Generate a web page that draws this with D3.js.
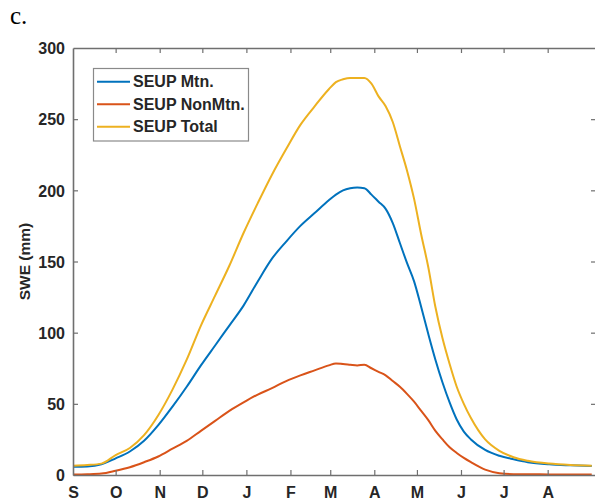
<!DOCTYPE html>
<html>
<head>
<meta charset="utf-8">
<script src="https://cdn.jsdelivr.net/npm/d3@7/dist/d3.min.js"></script>
<style>
  html, body { margin: 0; padding: 0; background: #fff; }
  svg { display: block; }
  text { font-family: "Liberation Sans", Arial, Helvetica, sans-serif; }
</style>
</head>
<body>
<svg id="chart" width="595" height="502"></svg>
<script>
// Days since 1 September
const days = [0, 10, 20, 30, 40, 50, 60, 70, 80, 90, 100, 110, 120, 130, 140, 150, 160, 170, 180, 185, 190, 195, 200, 205, 210, 215, 220, 225, 230, 235, 240, 245, 250, 255, 260, 265, 270, 275, 280, 290, 300, 310, 320, 335, 350, 365];

const mtn = [5.8, 6, 7.5, 11.7, 16.5, 24, 35, 48, 62, 77, 91, 105, 119, 136, 152, 164, 175, 184, 193, 197, 200, 201.5, 202, 201.5, 197, 192, 187, 177, 163, 149, 136, 118, 99, 81, 65, 51, 39, 30.5, 25, 17.6, 13.5, 11, 9, 7.5, 6.8, 6.3];

const nonMtn = [0.3, 0.5, 1, 3, 5.5, 9, 13, 18.5, 24, 31, 38, 45, 51, 56.5, 61, 66, 70, 73.5, 77, 78.4, 78, 77.5, 77, 77.5, 75, 72.5, 70, 66, 62, 57, 51.5, 45, 38.5, 31, 25, 19.5, 15.5, 12, 9, 3.8, 1.3, 0.6, 0.5, 0.4, 0.3, 0.3];

const total = [6.5, 7, 8, 14, 19, 28, 42, 60, 81, 105, 126, 147, 170, 191, 211, 229, 246, 259, 271, 276, 278, 279, 279, 279, 275, 266, 259, 248, 231, 214, 194, 169, 146, 118, 96, 78, 62, 50, 40, 25, 17, 12.5, 10, 8, 7, 6.5];

const monthTickDays = [0, 30, 61, 91, 122, 153, 181, 212, 242, 273, 303, 334];
const monthLabels = ["S", "O", "N", "D", "J", "F", "M", "A", "M", "J", "J", "A"];
const yTicks = [0, 50, 100, 150, 200, 250, 300];

const seriesNames = ["SEUP Mtn.", "SEUP NonMtn.", "SEUP Total"];
const seriesColors = ["#0072BD", "#D95319", "#EDB120"];
const seriesValues = [mtn, nonMtn, total];

const svg = d3.select("#chart");
const L = 73, R = 596, T = 48, B = 475;
const x = d3.scaleLinear().domain([0, 368]).range([L, R]);
const y = d3.scaleLinear().domain([0, 300]).range([B, T]);
const axisColor = "#6f6f6f";
const textColor = "#262626";

// "c." panel label
svg.append("text").attr("x", 10).attr("y", 24)
  .style("font-family", "'Liberation Serif', 'Times New Roman', serif")
  .style("font-size", "25px").attr("fill", "#000").text("c.");

// Lines
const line = d3.line().x((d, i) => x(days[i])).y(d => y(d)).curve(d3.curveMonotoneX);
const plot = svg.append("g");
seriesValues.forEach((vals, k) => {
  plot.append("path").datum(vals)
    .attr("d", line)
    .attr("fill", "none")
    .attr("stroke", seriesColors[k])
    .attr("stroke-width", 2)
    .attr("stroke-linejoin", "round");
});

// Axes (box with inward ticks)
const tickLen = 5;
const xb = svg.append("g").attr("transform", `translate(0,${B})`)
  .call(d3.axisBottom(x).tickValues(monthTickDays).tickSizeInner(-tickLen).tickSizeOuter(0)
    .tickFormat((d, i) => monthLabels[i]));
const xt = svg.append("g").attr("transform", `translate(0,${T})`)
  .call(d3.axisTop(x).tickValues(monthTickDays).tickSizeInner(-tickLen).tickSizeOuter(0).tickFormat(""));
const yl = svg.append("g").attr("transform", `translate(${L},0)`)
  .call(d3.axisLeft(y).tickValues(yTicks).tickSizeInner(-tickLen).tickSizeOuter(0).tickFormat(d3.format("d")));
const yr = svg.append("g").attr("transform", `translate(${R},0)`)
  .call(d3.axisRight(y).tickValues(yTicks).tickSizeInner(-tickLen).tickSizeOuter(0).tickFormat(""));

[xb, xt, yl, yr].forEach(g => {
  g.select(".domain").attr("stroke", axisColor).attr("stroke-width", 1.6);
  g.selectAll(".tick line").attr("stroke", axisColor).attr("stroke-width", 1.2);
});
xb.selectAll(".tick text")
  .attr("y", 12).attr("dy", "0.71em")
  .style("font-size", "16px").style("font-weight", "bold").attr("fill", textColor);
yl.selectAll(".tick text")
  .attr("x", -8).attr("dy", "0.36em")
  .style("font-size", "16px").style("font-weight", "bold").attr("fill", textColor);
// hide ticks at axis ends overlapping box
xb.selectAll(".tick line").filter(d => d === 0).remove();
xt.selectAll(".tick line").filter(d => d === 0).remove();
yl.selectAll(".tick line").filter(d => d === 0 || d === 300).remove();
yr.selectAll(".tick line").filter(d => d === 0 || d === 300).remove();

// Y label
svg.append("text")
  .attr("transform", `translate(30,${(T + B) / 2}) rotate(-90)`)
  .attr("text-anchor", "middle")
  .style("font-size", "15.5px").style("font-weight", "bold").attr("fill", textColor)
  .text("SWE (mm)");

// Legend
const lg = svg.append("g");
lg.append("rect").attr("x", 93.5).attr("y", 68.5).attr("width", 155).attr("height", 72.5)
  .attr("fill", "#fff").attr("stroke", "#8a8a8a").attr("stroke-width", 1.2);
const rowY = [81.7, 104.2, 126.7];
seriesNames.forEach((name, k) => {
  lg.append("line").attr("x1", 97).attr("x2", 130).attr("y1", rowY[k]).attr("y2", rowY[k])
    .attr("stroke", seriesColors[k]).attr("stroke-width", 2);
  lg.append("text").attr("x", 133).attr("y", rowY[k]).attr("dy", "0.36em")
    .style("font-size", "16px").style("font-weight", "bold").attr("fill", textColor)
    .text(name);
});
</script>
</body>
</html>
